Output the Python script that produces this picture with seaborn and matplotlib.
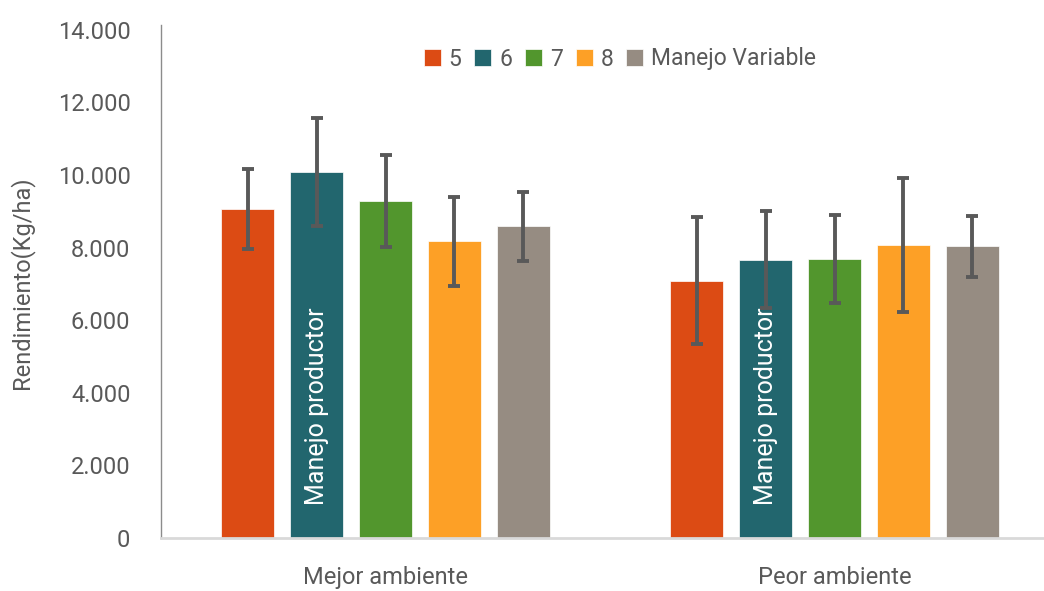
import pandas as pd
import seaborn as sns
import matplotlib.pyplot as plt

# Data
ambientes = ["Mejor ambiente", "Peor ambiente"]
tratamientos = ["5", "6", "7", "8", "Manejo Variable"]
rend_mejor = [9070, 10070, 9290, 8170, 8590]
rend_peor = [7090, 7670, 7680, 8070, 8030]
err_mejor = [1100, 1490, 1270, 1220, 950]
err_peor = [1750, 1340, 1215, 1855, 850]
colores = ["#DC4B14", "#22666E", "#52962D", "#FDA026", "#968C82"]

rows = []
for amb, vals in zip(ambientes, [rend_mejor, rend_peor]):
    for t, v in zip(tratamientos, vals):
        rows.append({"ambiente": amb, "tratamiento": t, "rendimiento": v})
df = pd.DataFrame(rows)

sns.set_style("white")
plt.rcParams["font.family"] = ["Roboto", "DejaVu Sans"]
txt_color = "#595959"

fig = plt.figure(figsize=(10.44, 5.91), dpi=100)
ax = fig.add_axes([161 / 1044, 53 / 591, 898 / 1044, 513 / 591])

sns.barplot(data=df, x="ambiente", y="rendimiento", hue="tratamiento",
            order=ambientes, hue_order=tratamientos, palette=colores,
            width=0.768, gap=0.22, errorbar=None, saturation=1,
            edgecolor="white", linewidth=0.5, ax=ax)

# error bars drawn on bar centres
for cont, i in zip(ax.containers, range(len(tratamientos))):
    xs = [b.get_x() + b.get_width() / 2 for b in cont]
    hs = [b.get_height() for b in cont]
    ax.errorbar(xs, hs, yerr=[err_mejor[i], err_peor[i]], fmt="none",
                ecolor="#595959", elinewidth=2.8, capsize=4, capthick=2.8,
                zorder=5)

# rotated label inside the teal bars
for b in ax.containers[1]:
    ax.text(b.get_x() + b.get_width() / 2, 3620, "Manejo productor",
            rotation=90, ha="center", va="center", color="white",
            fontsize=18)

ax.set_xlim(-0.5, 1.5)
ax.set_ylim(0, 14130)
ax.set_yticks(range(0, 14001, 2000))
ax.set_yticklabels(["0" if v == 0 else f"{v // 1000}.000" for v in range(0, 14001, 2000)])
ax.tick_params(axis="y", length=0, pad=22, labelsize=17, labelcolor=txt_color)
ax.tick_params(axis="x", length=0, pad=20, labelsize=17, labelcolor=txt_color)
ax.set_xlabel("")
ax.set_ylabel("")
fig.text(22 / 1044, 1 - 283 / 591, "Rendimiento(Kg/ha)", rotation=90,
         ha="center", va="center", fontsize=17, color=txt_color)

for s in ["top", "right"]:
    ax.spines[s].set_visible(False)
ax.spines["left"].set_color("#8c8c8c")
ax.spines["left"].set_linewidth(1)
ax.spines["bottom"].set_color("#d9d9d9")
ax.spines["bottom"].set_linewidth(2)

handles, labels = ax.get_legend_handles_labels()
ax.legend(handles, labels, loc="center", bbox_to_anchor=(620 / 1044, 1 - 59 / 591),
          bbox_transform=fig.transFigure, ncol=5, frameon=False,
          handlelength=0.75, handleheight=0.75, handletextpad=0.35,
          columnspacing=0.55, fontsize=16.5, labelcolor=txt_color)

fig.savefig("out.png", dpi=100)
